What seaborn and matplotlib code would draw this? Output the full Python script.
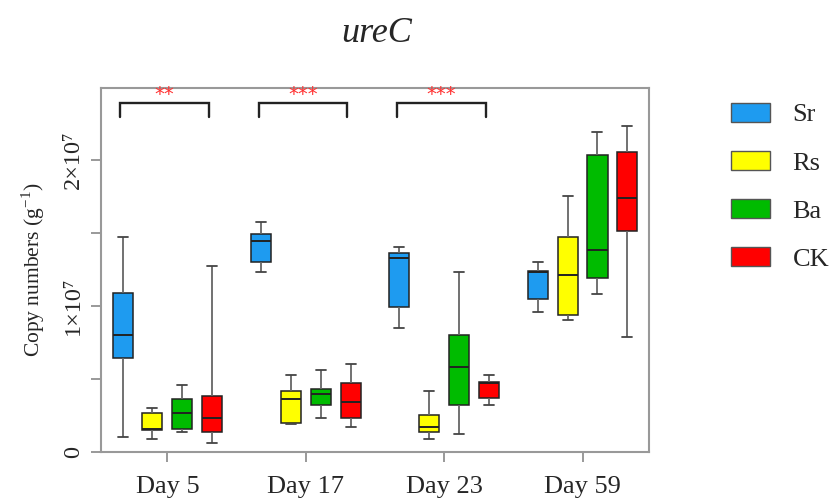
import matplotlib
matplotlib.use("Agg")
import matplotlib.pyplot as plt
from matplotlib.patches import Patch
import seaborn as sns
import pandas as pd

# five-number summaries (min, q1, median, q3, max), units of 1e7 copies per g
days = ["Day 5", "Day 17", "Day 23", "Day 59"]
groups = ["Sr", "Rs", "Ba", "CK"]
sr = [[0.10, 0.64, 0.80, 1.09, 1.47],
      [1.23, 1.30, 1.44, 1.49, 1.57],
      [0.85, 0.99, 1.33, 1.36, 1.40],
      [0.96, 1.05, 1.23, 1.24, 1.30]]
rs = [[0.09, 0.15, 0.16, 0.27, 0.30],
      [0.19, 0.20, 0.36, 0.42, 0.53],
      [0.09, 0.14, 0.17, 0.25, 0.42],
      [0.90, 0.94, 1.21, 1.47, 1.75]]
ba = [[0.14, 0.16, 0.27, 0.36, 0.46],
      [0.23, 0.32, 0.40, 0.43, 0.56],
      [0.12, 0.32, 0.58, 0.80, 1.23],
      [1.08, 1.19, 1.38, 2.03, 2.19]]
ck = [[0.06, 0.14, 0.23, 0.38, 1.27],
      [0.17, 0.23, 0.34, 0.47, 0.60],
      [0.32, 0.37, 0.47, 0.48, 0.53],
      [0.79, 1.51, 1.74, 2.05, 2.23]]
colors = ["#1E9BF0", "#FFFF00", "#00BB00", "#FF0000"]

sig_days = ["Day 5", "Day 17", "Day 23"]
sig_labels = ["**", "***", "***"]

rows = []
for g, stats in zip(groups, [sr, rs, ba, ck]):
    for d, vals in zip(days, stats):
        for v in vals:
            rows.append({"day": d, "group": g, "value": v * 1e7})
df = pd.DataFrame(rows)

sns.set_style("white")
plt.rcParams["font.family"] = ["Liberation Serif", "DejaVu Serif"]
plt.rcParams["mathtext.fontset"] = "stix"

fig = plt.figure(figsize=(8.34, 5), dpi=100)
ax = fig.add_axes([0.1211, 0.096, 0.657, 0.728])

sns.boxplot(data=df, x="day", y="value", hue="group", order=days,
            hue_order=groups, palette=colors, saturation=1,
            width=0.865, gap=0.33,
            whis=(0, 100), linecolor="#222222", linewidth=1.1,
            whiskerprops={"color": "#666666", "linewidth": 1.3},
            capprops={"color": "#444444", "linewidth": 1.3},
            medianprops={"color": "#222222", "linewidth": 1.4},
            legend=False, ax=ax)

ax.set_xlim(-0.48, 3.48)
ax.set_ylim(0, 2.49e7)
ax.set_xlabel("")
ax.set_ylabel(r"Copy numbers (g$^{\mathregular{-1}}$)", fontsize=15.5,
              labelpad=12)

ax.set_yticks([0, 1e7, 2e7])
ax.set_yticklabels(["0", "1×10⁷", "2×10⁷"], rotation=90, va="center",
                   fontsize=17.5)
ax.set_yticks([0.5e7, 1.5e7], minor=True)
ax.tick_params(axis="y", which="both", direction="out", length=7,
               width=1.2, color="#888888", left=True, pad=5)
ax.tick_params(axis="x", direction="out", length=7, width=1.2,
               color="#888888", bottom=True, labelsize=19, pad=10)
for s in ax.spines.values():
    s.set_color("#999999")
    s.set_linewidth(1.5)

# significance brackets
for d, lab in zip(sig_days, sig_labels):
    i = days.index(d)
    x0, x1 = i - 0.34, i + 0.30
    ytop, ybot = 2.39e7, 2.295e7
    ax.plot([x0, x0, x1, x1], [ybot, ytop, ytop, ybot], color="#222222",
            lw=1.7, solid_joinstyle="miter", clip_on=False)
    ax.text((x0 + x1) / 2, ytop - 0.01e7, lab, color="#FF3030",
            ha="center", va="bottom", fontsize=14, family="DejaVu Sans")

fig.text(0.452, 0.933, "ureC", ha="center", va="center", fontsize=26,
         style="italic")

handles = [Patch(facecolor=c, edgecolor="#555555", label=g)
           for g, c in zip(groups, colors)]
fig.legend(handles=handles, loc="upper left", bbox_to_anchor=(0.848, 0.842),
           frameon=False, fontsize=19, handlelength=1.48, handleheight=0.72,
           labelspacing=0.93, handletextpad=0.85)

plt.savefig("out.png", dpi=100)
plt.close()
